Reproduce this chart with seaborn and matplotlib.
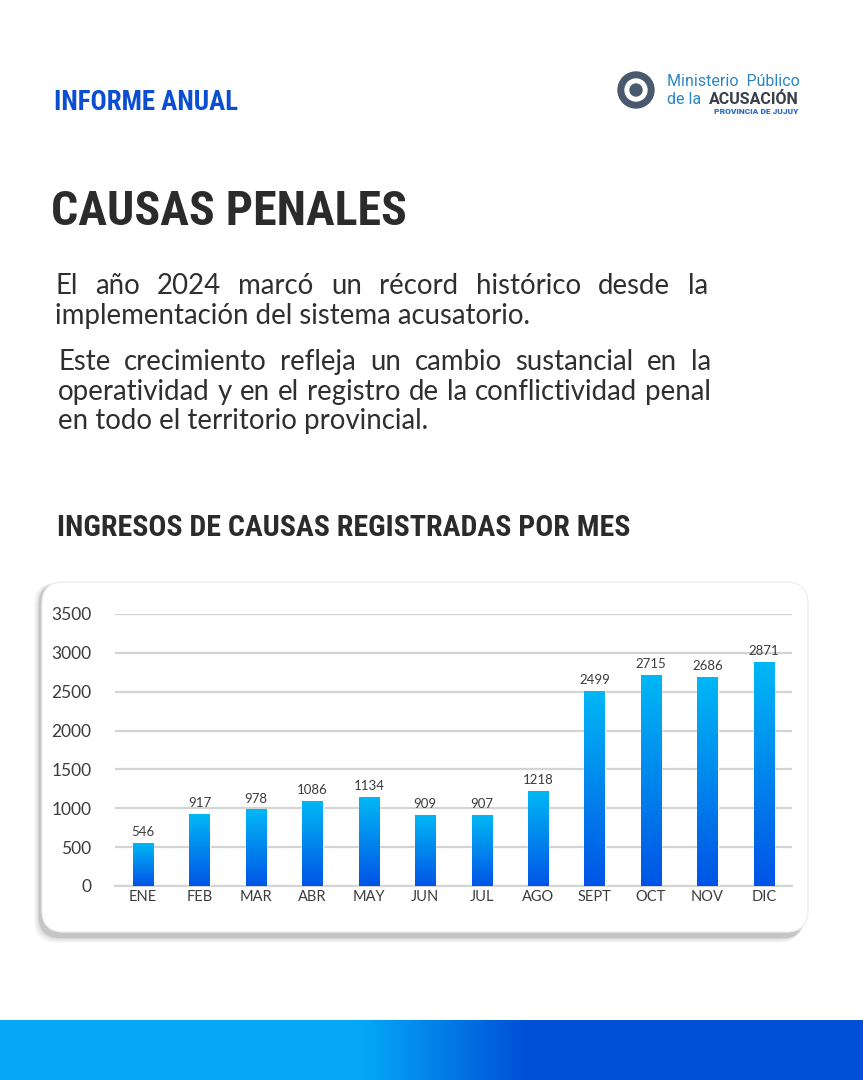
import numpy as np
import pandas as pd
import matplotlib
matplotlib.use("Agg")
import matplotlib.pyplot as plt
import seaborn as sns
from matplotlib.patches import FancyBboxPatch, Circle

# datos
meses = ["ENE", "FEB", "MAR", "ABR", "MAY", "JUN", "JUL", "AGO", "SEPT", "OCT", "NOV", "DIC"]
causas = [546, 917, 978, 1086, 1134, 909, 907, 1218, 2499, 2715, 2686, 2871]
yticks = [0, 500, 1000, 1500, 2000, 2500, 3000, 3500]

texto1 = ["El año 2024 marcó un récord histórico desde la",
          "implementación del sistema acusatorio."]
texto2 = ["Este crecimiento refleja un cambio sustancial en la",
          "operatividad y en el registro de la conflictividad penal",
          "en todo el territorio provincial."]

sns.set_theme(style="white")
plt.rcParams['font.family'] = ['Lato', 'DejaVu Sans']

W, H = 863, 1080
fig = plt.figure(figsize=(W / 100, H / 100), dpi=100)
fig.patch.set_facecolor("white")
rend = fig.canvas.get_renderer()

# fondo en pixeles
bg = fig.add_axes([0, 0, 1, 1])
bg.set_xlim(0, W)
bg.set_ylim(H, 0)
bg.axis("off")


def ancho(t):
    return t.get_window_extent(renderer=rend).width


def fit_text(x, y, s, width, **kw):
    t = bg.text(x, y, s, fontsize=10, va="center", ha="left", **kw)
    t.set_fontsize(10 * width / ancho(t))
    return t


def justify(x, y, s, width, size, **kw):
    palabras = s.split()
    ts = [bg.text(x, y, p, fontsize=size, va="center", ha="left", **kw) for p in palabras]
    ws = [ancho(t) for t in ts]
    gap = (width - sum(ws)) / (len(ws) - 1)
    pos = x
    for t, w in zip(ts, ws):
        t.set_x(pos)
        pos += w + gap


cond = dict(family=['Roboto Condensed', 'Roboto', 'DejaVu Sans'], fontweight="black",
            color="#2b2b2b")
t = fit_text(54, 103, "INFORME ANUAL", 183, **cond)
t.set_color("#0b4fd0")
fit_text(51, 212, "CAUSAS PENALES", 354, **cond)
fit_text(57, 528, "INGRESOS DE CAUSAS REGISTRADAS POR MES", 571, **cond)

cuerpo = dict(family=['Lato', 'DejaVu Sans'], color="#2f2f2f")
t2 = fit_text(58, 421, texto2[2], 371, **cuerpo)
size = t2.get_fontsize()
justify(58, 362, texto2[0], 653, size, **cuerpo)
justify(58, 392, texto2[1], 653, size, **cuerpo)
justify(55, 286, texto1[0], 653, size, **cuerpo)
bg.text(55, 316, texto1[1], fontsize=size, va="center", ha="left", **cuerpo)

# logo
bg.add_patch(Circle((636, 90), 18, color="#4a5a6e", zorder=2))
bg.add_patch(Circle((636, 90), 11, color="white", zorder=3))
bg.add_patch(Circle((636, 90), 6, color="#4a5a6e", zorder=4))
bg.text(667, 82, "Ministerio  Público", family=['Roboto', 'DejaVu Sans'], fontsize=11.5,
        color="#2a86c4", va="center", ha="left")
bg.text(667, 100, "de la ", family=['Roboto', 'DejaVu Sans'], fontsize=11.5,
        color="#2a86c4", va="center", ha="left")
bg.text(799, 100, "ACUSACIÓN", family=['Roboto', 'DejaVu Sans'], fontsize=11.5,
        fontweight="bold", color="#3a3f4a", va="center", ha="right")
bg.text(798, 112, "PROVINCIA DE JUJUY", family=['Roboto', 'DejaVu Sans'], fontsize=6,
        fontweight="black", color="#2a6cc4", va="center", ha="right")

# tarjeta con sombra
for k, a in zip([10, 7, 4, 2], [0.03, 0.05, 0.07, 0.09]):
    bg.add_patch(FancyBboxPatch((40 - k * 0.6, 583), 766, 354 + k * 0.6,
                                boxstyle="round,pad=0,rounding_size=22",
                                fc="#000000", ec="none", alpha=a, zorder=1))
bg.add_patch(FancyBboxPatch((42, 582), 766, 350, boxstyle="round,pad=0,rounding_size=22",
                            fc="white", ec="#eeeeee", lw=1, zorder=2))

# banda inferior con degradado
grad = np.linspace(0, 1, 400)
grad = np.clip((grad - 0.42) / 0.19, 0, 1)
c1 = np.array([0.016, 0.66, 0.97])
c2 = np.array([0.0, 0.31, 0.84])
band = (c1[None, :] * (1 - grad[:, None]) + c2[None, :] * grad[:, None])[None, :, :]
bg.imshow(band, extent=[0, W, H, 1020], aspect="auto", zorder=2)
bg.set_xlim(0, W)
bg.set_ylim(H, 0)

# grafico
ax = fig.add_axes([115 / W, (H - 886) / H, (792 - 115) / W, (886 - 614) / H])
ax.set_zorder(5)
ax.patch.set_alpha(0)
df = pd.DataFrame({"mes": meses, "causas": causas})
sns.barplot(data=df, x="mes", y="causas", ax=ax, width=0.36, color="#0a8ff0", zorder=3)
ax.set_ylim(0, 3500)
ax.set_xlim(-0.5, len(meses) - 0.5)
ax.set_yticks(yticks)
ax.set_yticklabels([str(v) for v in yticks])
ax.grid(axis="y", color="#d4d4d4", lw=1.6, zorder=0)
ax.grid(axis="x", visible=False)
for s in ["top", "right", "left"]:
    ax.spines[s].set_visible(False)
ax.spines["bottom"].set_color("#d4d4d4")
ax.spines["bottom"].set_linewidth(1.6)
ax.tick_params(axis="y", length=0, pad=17, labelsize=12.5, labelcolor="#3c3c3c")
ax.tick_params(axis="x", length=0, pad=3, labelsize=10.5, labelcolor="#3c3c3c")
ax.set_xlabel("")
ax.set_ylabel("")

# degradado dentro de las barras
vgrad = np.linspace(0, 1, 256)[:, None]
top = np.array([0.0, 0.72, 0.96])
bot = np.array([0.0, 0.33, 0.90])
img = (top[None, None, :] * (1 - vgrad[:, :, None]) + bot[None, None, :] * vgrad[:, :, None])
for p, v in zip(ax.patches, causas):
    x0 = p.get_x()
    w = p.get_width()
    ax.imshow(img, extent=[x0, x0 + w, 0, p.get_height()], aspect="auto", zorder=4)
    ax.text(x0 + w / 2, v + 70, str(v), ha="center", va="bottom", fontsize=9.5,
            color="#3c3c3c", zorder=6)
ax.set_ylim(0, 3500)
ax.set_xlim(-0.5, len(meses) - 0.5)

fig.savefig("out.png", dpi=100, facecolor="white")
